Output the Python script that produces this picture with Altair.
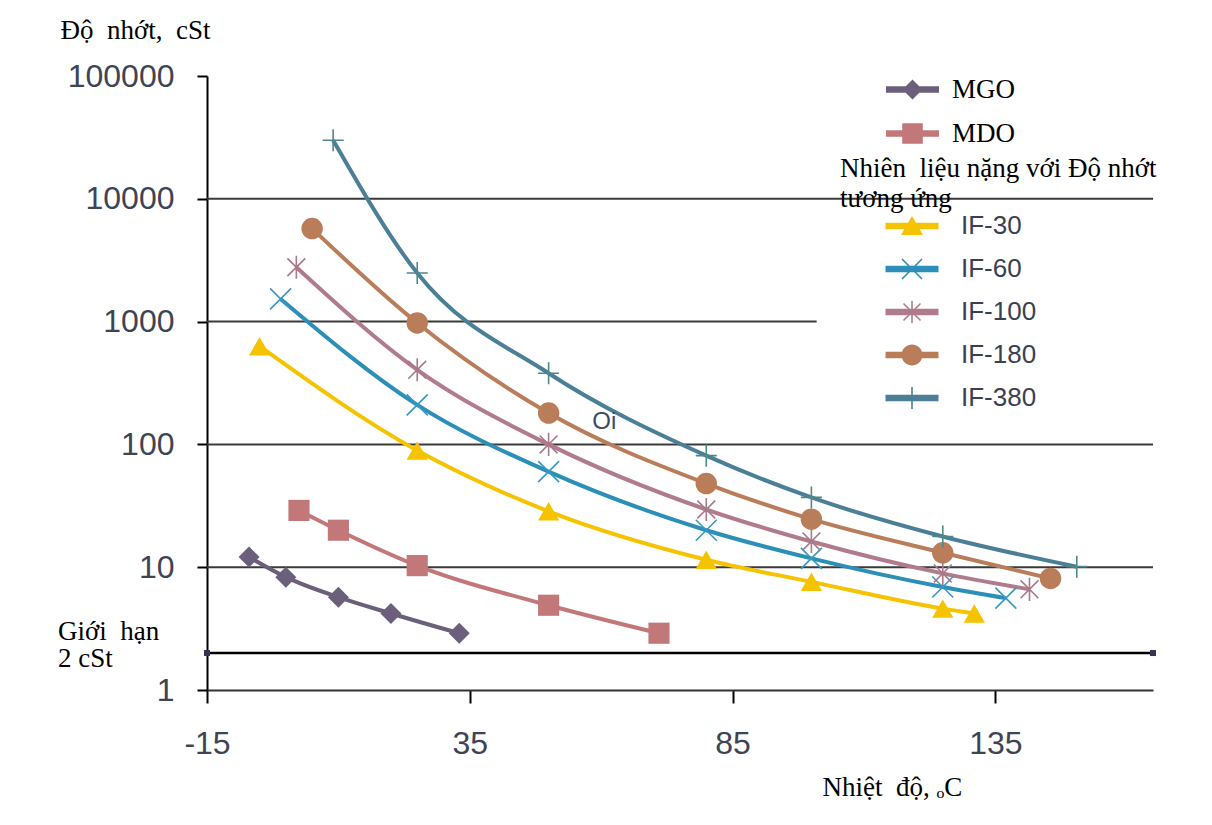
import math
import altair as alt
import pandas as pd

# ---------------- data ----------------
series = ["MGO", "MDO", "IF-30", "IF-60", "IF-100", "IF-180", "IF-380"]

mgo_t = [-7, 0, 10, 20, 33]
mgo_v = [12.1, 8.3, 5.7, 4.2, 2.9]

mdo_t = [2.5, 10, 25, 50, 71]
mdo_v = [29, 20, 10.3, 4.9, 2.9]

if30_t = [-5, 25, 50, 80, 100, 125, 131]
if30_v = [630, 89, 28.5, 11.5, 7.6, 4.6, 4.2]

if60_t = [-1, 25, 50, 80, 100, 125, 137]
if60_v = [1530, 210, 60, 20, 11.8, 6.9, 5.6]

if100_t = [2, 25, 50, 80, 100, 125, 141.5]
if100_v = [2770, 405, 100, 29.5, 16.2, 8.9, 6.6]

if180_t = [5, 25, 50, 80, 100, 125, 145.5]
if180_v = [5720, 975, 180, 48, 24.6, 13.1, 8.1]

if380_t = [9, 25, 50, 80, 100, 125, 150.5]
if380_v = [30000, 2490, 380, 81, 37, 17.8, 10.1]

limit_t = [-15, 165]
limit_v = [2, 2]

grid_v = [10, 100, 1000, 10000]
grid_end = [165, 165, 101, 165]
x_ticks = [-15, 35, 85, 135]
y_ticks = [1, 10, 100, 1000, 10000, 100000]

note_t = [60.6]
note_v = [153]
note_txt = ["Oi"]

line_colors = ["#6c5f7c", "#c27878", "#f5c300", "#2b8fb8", "#b07b8b", "#b97d5a", "#4b7f97"]

# ---------------- table ----------------
rows = []
for name, ts, vs in [("MGO", mgo_t, mgo_v), ("MDO", mdo_t, mdo_v),
                     ("IF-30", if30_t, if30_v), ("IF-60", if60_t, if60_v),
                     ("IF-100", if100_t, if100_v), ("IF-180", if180_t, if180_v),
                     ("IF-380", if380_t, if380_v)]:
    for i, (t, v) in enumerate(zip(ts, vs)):
        rows.append({"series": name, "temp": t, "visc": v, "order": i})
df = pd.DataFrame(rows)

limit_df = pd.DataFrame({"temp": limit_t, "visc": limit_v})
grid_df = pd.DataFrame({"visc": grid_v, "temp": [-15] * len(grid_v), "end": grid_end})
note_df = pd.DataFrame({"temp": note_t, "visc": note_v, "txt": note_txt})

# ---------------- symbol paths for legend ----------------
def poly(pts):
    a = sum(pts[i][0] * pts[(i + 1) % len(pts)][1] - pts[(i + 1) % len(pts)][0] * pts[i][1]
            for i in range(len(pts)))
    if a < 0:
        pts = pts[::-1]
    return "M" + "L".join(f"{x:.3f},{y:.3f}" for x, y in pts) + "Z"

def rect(x0, y0, x1, y1):
    return poly([(x0, y0), (x1, y0), (x1, y1), (x0, y1)])

def seg(x0, y0, x1, y1, w):
    dx, dy = x1 - x0, y1 - y0
    L = math.hypot(dx, dy)
    nx, ny = -dy / L * w, dx / L * w
    return poly([(x0 + nx, y0 + ny), (x1 + nx, y1 + ny), (x1 - nx, y1 - ny), (x0 - nx, y0 - ny)])

def circ(r, n=36):
    return poly([(r * math.cos(2 * math.pi * k / n), r * math.sin(2 * math.pi * k / n)) for k in range(n)])

bar = rect(-2.65, -0.33, 2.65, 0.33)
lw = 0.08
leg_shapes = {
    "MGO": bar + poly([(-1, 0), (0, -1), (1, 0), (0, 1)]),
    "MDO": bar + rect(-1.03, -1.03, 1.03, 1.03),
    "IF-30": bar + poly([(0, -1.0), (1.1, 0.9), (-1.1, 0.9)]),
    "IF-60": bar + seg(-1, -1, 1, 1, lw) + seg(-1, 1, 1, -1, lw),
    "IF-100": bar + seg(-0.85, -0.85, 0.85, 0.85, lw) + seg(-0.85, 0.85, 0.85, -0.85, lw) + seg(0, -1.1, 0, 1.1, lw),
    "IF-180": bar + circ(1.05),
    "IF-380": bar + seg(0, -1.1, 0, 1.1, lw),
}

# ---------------- encodings ----------------
LAB_COLOR = "#3e4454"
x_enc = alt.X("temp:Q",
              scale=alt.Scale(domain=[-15, 165], nice=False, zero=False),
              axis=alt.Axis(values=x_ticks, grid=False, title="Nhiệt\u00a0 độ, ₒC",
                            labelExpr="'' + datum.value",
                            titleFont="Liberation Serif", titleFontSize=27, titleFontWeight="normal",
                            titleColor="black", titleAlign="left", titleBaseline="middle",
                            titleX=615, titleY=97, titleAnchor="start",
                            labelFont="Liberation Sans", labelFontSize=32, labelColor=LAB_COLOR,
                            labelPadding=25, tickSize=13, tickWidth=2, tickColor="black",
                            domainColor="#333333", domainWidth=2, labelFlush=False))
y_enc = alt.Y("visc:Q",
              scale=alt.Scale(type="log", domain=[1, 100000], nice=False),
              axis=alt.Axis(values=y_ticks, format="d", grid=False, title="Độ\u00a0 nhớt,\u00a0 cSt",
                            titleFont="Liberation Serif", titleFontSize=27, titleFontWeight="normal",
                            titleColor="black", titleAngle=0, titleAlign="left", titleBaseline="middle",
                            titleX=-147, titleY=-46, titleAnchor="start",
                            labelFont="Liberation Sans", labelFontSize=32, labelColor=LAB_COLOR,
                            labelPadding=23, tickSize=10, tickWidth=2, tickColor="black",
                            domainColor="black", domainWidth=2, labelFlush=False))

W, H = 946, 614

base = alt.Chart(df)

grid = alt.Chart(grid_df).mark_rule(color="#3a3a3a", strokeWidth=2).encode(
    y=y_enc, x=x_enc, x2="end:Q")

limit_line = alt.Chart(limit_df).mark_line(color="black", strokeWidth=2.5).encode(x=x_enc, y=y_enc)
limit_pts = alt.Chart(limit_df).mark_point(shape="square", filled=True, size=36, color="#3a3050", opacity=1).encode(
    x=x_enc, y=y_enc)

lines = base.mark_line(strokeWidth=4, interpolate="monotone").encode(
    x=x_enc, y=y_enc, order="order:Q",
    color=alt.Color("series:N", scale=alt.Scale(domain=series, range=line_colors), legend=None))

filled_series = ["MGO", "MDO", "IF-30", "IF-180"]
pts_filled = base.transform_filter(alt.FieldOneOfPredicate(field="series", oneOf=filled_series)).mark_point(
    filled=True, opacity=1, strokeWidth=0).encode(
    x=x_enc, y=y_enc,
    color=alt.Color("series:N", scale=alt.Scale(domain=filled_series,
                                                 range=["#6c5f7c", "#c27878", "#f5c300", "#b97d5a"]), legend=None),
    shape=alt.Shape("series:N", scale=alt.Scale(domain=filled_series,
                                                 range=["diamond", "square", "triangle-up", "circle"]), legend=None),
    size=alt.Size("series:N", scale=alt.Scale(domain=filled_series, range=[441, 460, 560, 484]), legend=None))

stroked_series = ["IF-60", "IF-100", "IF-380"]
pts_stroked = base.transform_filter(alt.FieldOneOfPredicate(field="series", oneOf=stroked_series)).mark_point(
    filled=False, opacity=1, strokeWidth=1.6, size=441).encode(
    x=x_enc, y=y_enc,
    color=alt.Color("series:N", scale=alt.Scale(domain=stroked_series,
                                                 range=["#3898c0", "#a9788a", "#4f8888"]), legend=None),
    shape=alt.Shape("series:N", scale=alt.Scale(domain=stroked_series, range=[
        "M-1,-1L1,1M-1,1L1,-1",
        "M-0.85,-0.85L0.85,0.85M-0.85,0.85L0.85,-0.85M0,-1.1L0,1.1",
        "M-1,0L1,0M0,-1.05L0,1.05"]), legend=None))

# legend-only layers
g1 = ["MGO", "MDO"]
leg1 = alt.Legend(title=None, orient="none", legendX=692, legendY=0, padding=0,
                  symbolSize=400, symbolStrokeWidth=0, symbolOffset=0,
                  labelOffset=26, labelFont="Liberation Serif", labelFontSize=27, labelColor="black",
                  labelLimit=400, rowPadding=16, labelBaseline="middle")
legend1 = base.transform_filter("false").mark_point(filled=True, size=400, opacity=1).encode(
    x=x_enc, y=y_enc,
    color=alt.Color("series:N", scale=alt.Scale(domain=g1, range=line_colors[:2]), legend=leg1),
    shape=alt.Shape("series:N", scale=alt.Scale(domain=g1, range=[leg_shapes[s] for s in g1]), legend=leg1))

g2 = ["IF-30", "IF-60", "IF-100", "IF-180", "IF-380"]
leg2 = alt.Legend(title=["Nhiên\u00a0 liệu nặng với Độ nhớt", "tương ứng"],
                  titleFont="Liberation Serif", titleFontSize=27, titleFontWeight="normal", titleColor="black",
                  titleLimit=600, titleLineHeight=30, titleAnchor="start", titleAlign="left",
                  titlePadding=0, titleBaseline="top",
                  orient="none", legendX=633, legendY=80, padding=0,
                  symbolSize=400, symbolStrokeWidth=0, symbolOffset=59,
                  labelOffset=36, labelFont="Liberation Sans", labelFontSize=26, labelColor="#3b4050",
                  labelLimit=400, rowPadding=17, labelBaseline="middle",
                  labelExpr="datum.label == 'IF-60' ? '\u00a0IF-60' : datum.label")
legend2 = base.transform_filter("false").mark_point(filled=True, size=400, opacity=1).encode(
    x=x_enc, y=y_enc,
    color=alt.Color("series:N", scale=alt.Scale(domain=g2, range=line_colors[2:]), legend=leg2),
    shape=alt.Shape("series:N", scale=alt.Scale(domain=g2, range=[leg_shapes[s] for s in g2]), legend=leg2))

note = alt.Chart(note_df).mark_text(font="Liberation Sans", fontSize=24, color="#3b4a66").encode(
    x=x_enc, y=y_enc, text="txt:N")

limit_label = alt.Chart(pd.DataFrame({"a": [0]})).mark_text(
    font="Liberation Serif", fontSize=27, color="black", align="left", baseline="top",
    lineBreak="\n", lineHeight=27).encode(
    x=alt.value(-149), y=alt.value(543), text=alt.value("Giới\u00a0 hạn\n2 cSt"))

chart = alt.layer(
    grid, limit_line, limit_pts, lines, pts_filled, pts_stroked, legend1, legend2, note, limit_label
).resolve_scale(
    color="independent", shape="independent", size="independent"
).properties(
    width=W, height=H,
    autosize=alt.AutoSizeParams(type="none"),
    padding={"left": 199, "top": 68, "right": 45, "bottom": 120},
    background="white",
).configure_view(stroke=None)

chart.save("out.html", embed_options={"renderer": "svg", "actions": False})
